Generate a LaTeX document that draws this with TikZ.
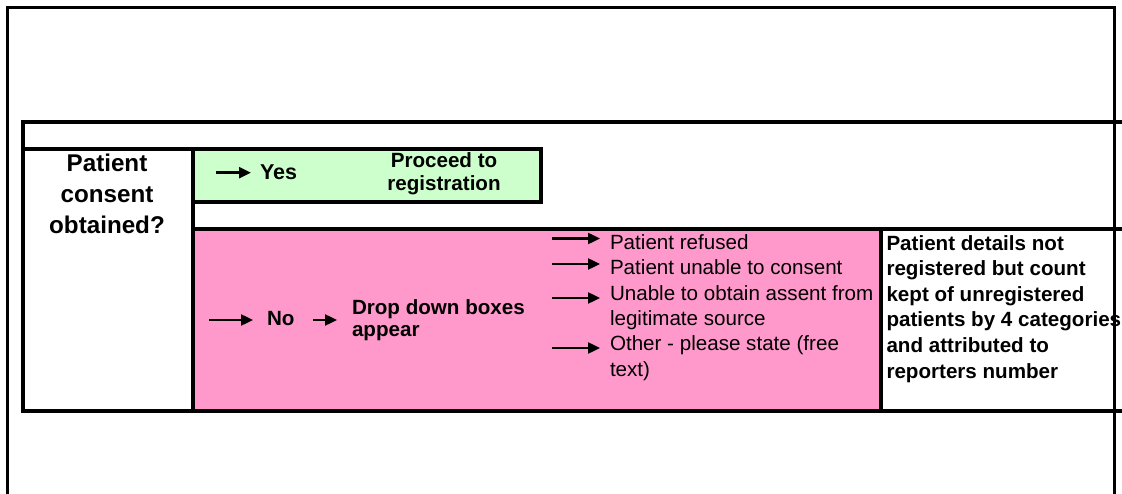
\documentclass[tikz,border=0pt]{standalone}
\usepackage{fontspec}
\setmainfont{Liberation Sans}
\usetikzlibrary{arrows.meta}
\definecolor{pinkfill}{HTML}{FF99CC}
\definecolor{greenfill}{HTML}{CCFFCC}
\newcommand\labelfont{\fontsize{24.2}{31}\selectfont\bfseries}
\newcommand\yesfont{\fontsize{21.5}{26}\selectfont\bfseries}
\newcommand\procfont{\fontsize{20.6}{23}\selectfont\bfseries}
\newcommand\dropfont{\fontsize{20.6}{22.4}\selectfont\bfseries}
\newcommand\optfont{\fontsize{20.6}{25.3}\selectfont}
\newcommand\resfont{\fontsize{20.6}{25.6}\selectfont\bfseries}
\tikzset{
  frameline/.style={line width=2.6pt},
  tableline/.style={line width=4pt, line cap=rect, line join=miter},
  pointer/.style={line width=2.4pt, -{Triangle[length=12pt,width=11pt]}},
  txt/.style={inner sep=0pt, outer sep=0pt, text=black},
}
\begin{document}
\begin{tikzpicture}[x=1pt,y=-1pt]
\useasboundingbox (0,0) rectangle (1122,494);
\fill[white] (0,0) rectangle (1122,494);
\clip (0,0) rectangle (1122,494);
% fills
\fill[greenfill] (192.5,149.5) rectangle (540.5,202);
\fill[pinkfill] (192.5,229.5) rectangle (880.5,410.5);
% outer frame
\draw[frameline] (7.5,500) -- (7.5,7.3) -- (1114.5,7.3) -- (1114.5,500);
% table lines
\draw[tableline] (1130,122) -- (23,122) -- (23,410.5) -- (1130,410.5);
\draw[tableline] (23,149.5) -- (192.5,149.5);
\draw[tableline] (192.5,149.5) -- (192.5,410.5);
\draw[tableline] (192.5,149.5) rectangle (540.5,202);
\draw[tableline] (192.5,229.5) -- (1130,229.5);
\draw[tableline] (880.5,229.5) -- (880.5,410.5);
% texts
\node[txt, anchor=north, align=center, font=\labelfont] (q) at (107,153.3)
  {\rule{0pt}{18pt}Patient\\consent\\obtained?};
\node[txt, anchor=base west, font=\yesfont] (yes) at (260,179.5) {Yes};
\node[txt, anchor=north, align=center, font=\procfont] (proc) at (444,152.5)
  {\rule{0pt}{15pt}Proceed to\\registration};
\node[txt, anchor=base west, font=\dropfont] (no) at (267,326) {No};
\node[txt, anchor=north west, align=left, font=\dropfont] (drop) at (352,299.3)
  {\rule{0pt}{15pt}Drop down boxes\\appear};
\node[txt, anchor=north west, align=left, font=\optfont] (opts) at (610,234.6)
  {\rule{0pt}{15pt}Patient refused\\Patient unable to consent\\Unable to obtain assent from\\legitimate source\\Other - please state (free\\text)};
\node[txt, anchor=north west, align=left, font=\resfont] (res) at (886.5,235)
  {\rule{0pt}{15pt}Patient details not\\registered but count\\kept of unregistered\\patients by 4 categories\\and attributed to\\reporters number};
% arrows
\coordinate (ya1) at (216,172.7); \coordinate (ya2) at (251,172.7);
\coordinate (na1) at (209,320);   \coordinate (na2) at (253,320);
\coordinate (nb1) at (313,320);   \coordinate (nb2) at (337,320);
\coordinate (o1s) at (552,238.5); \coordinate (o1e) at (600,238.5);
\coordinate (o2s) at (552,264);   \coordinate (o2e) at (600,264);
\coordinate (o3s) at (552,298);   \coordinate (o3e) at (600,298);
\coordinate (o4s) at (552,348);   \coordinate (o4e) at (600,348);
\draw[pointer] (ya1) -- (ya2);
\draw[pointer] (na1) -- (na2);
\draw[pointer] (nb1) -- (nb2);
\draw[pointer] (o1s) -- (o1e);
\draw[pointer] (o2s) -- (o2e);
\draw[pointer] (o3s) -- (o3e);
\draw[pointer] (o4s) -- (o4e);
\end{tikzpicture}
\end{document}
